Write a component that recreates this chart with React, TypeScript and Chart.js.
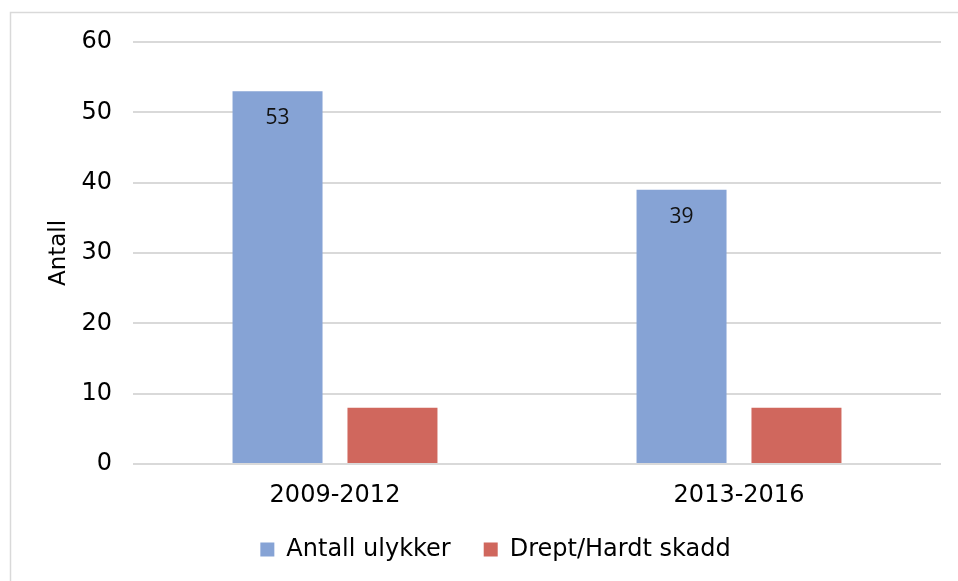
import React, { useEffect, useRef } from "react";
import { Chart, registerables } from "chart.js";

Chart.register(...registerables);

const categories = ["2009-2012", "2013-2016"];
const seriesNames = ["Antall ulykker", "Drept/Hardt skadd"];
const antallUlykker = [53, 39];
const dreptHardtSkadd = [8, 8];
const yTicks = [0, 10, 20, 30, 40, 50, 60];
const yTitle = "Antall";

const BLUE = "#86A3D5";
const RED = "#D0675D";
const FONT = "'DejaVu Sans', Verdana, sans-serif";

const framePlugin = {
  id: "frame",
  beforeDraw(chart: any) {
    const ctx = chart.ctx;
    ctx.save();
    ctx.strokeStyle = "#d9d9d9";
    ctx.lineWidth = 1.5;
    ctx.beginPath();
    ctx.moveTo(10.5, chart.height + 5);
    ctx.lineTo(10.5, 12.5);
    ctx.lineTo(chart.width + 5, 12.5);
    ctx.stroke();
    ctx.restore();
  },
};

const valueLabelPlugin = {
  id: "valueLabels",
  afterDatasetsDraw(chart: any) {
    const ctx = chart.ctx;
    const meta = chart.getDatasetMeta(0);
    const data = chart.data.datasets[0].data;
    ctx.save();
    ctx.font = "21px 'Open Sans', 'Noto Sans', sans-serif";
    ctx.fillStyle = "#111";
    ctx.textAlign = "center";
    ctx.textBaseline = "middle";
    meta.data.forEach((el: any, i: number) => {
      ctx.fillText(String(data[i]), el.x, el.y + 27);
    });
    ctx.restore();
  },
};

export default function App() {
  const ref = useRef<HTMLCanvasElement | null>(null);

  useEffect(() => {
    if (!ref.current) return;
    const chart = new Chart(ref.current, {
      type: "bar",
      data: {
        labels: categories,
        datasets: [
          {
            label: seriesNames[0],
            data: antallUlykker,
            backgroundColor: BLUE,
            categoryPercentage: 0.569,
            barPercentage: 0.783,
          },
          {
            label: seriesNames[1],
            data: dreptHardtSkadd,
            backgroundColor: RED,
            categoryPercentage: 0.569,
            barPercentage: 0.783,
          },
        ],
      },
      options: {
        animation: false,
        responsive: false,
        maintainAspectRatio: false,
        layout: { padding: { left: 50, right: 17, top: 42, bottom: 9.5 } },
        plugins: {
          tooltip: { enabled: false },
          legend: {
            position: "bottom",
            labels: {
              boxWidth: 14,
              boxHeight: 14,
              padding: 33,
              color: "#000",
              font: { family: FONT, size: 24 },
            },
          },
        },
        scales: {
          x: {
            grid: { display: false, drawTicks: false },
            border: { display: false },
            ticks: {
              color: "#000",
              padding: 17,
              font: { family: FONT, size: 24 },
            },
            afterFit(scale: any) {
              scale.height = 40.5;
            },
          },
          y: {
            min: 0,
            max: 60,
            afterBuildTicks(scale: any) {
              scale.ticks = yTicks.map((v) => ({ value: v }));
            },
            grid: { color: "#d9d9d9", lineWidth: 2, drawTicks: false },
            border: { display: false },
            ticks: {
              color: "#000",
              padding: 21,
              font: { family: FONT, size: 24 },
            },
            title: {
              display: true,
              text: yTitle,
              color: "#000",
              font: { family: FONT, size: 23 },
              padding: { top: -5, bottom: 0 },
            },
            afterFit(scale: any) {
              scale.width = 83;
            },
          },
        },
      },
      plugins: [framePlugin, valueLabelPlugin],
    } as any);
    return () => chart.destroy();
  }, []);

  return (
    <div style={{ position: "absolute", left: 0, top: 0, width: 958, height: 581, background: "#fff" }}>
      <canvas ref={ref} width={958} height={581} style={{ display: "block" }} />
    </div>
  );
}
